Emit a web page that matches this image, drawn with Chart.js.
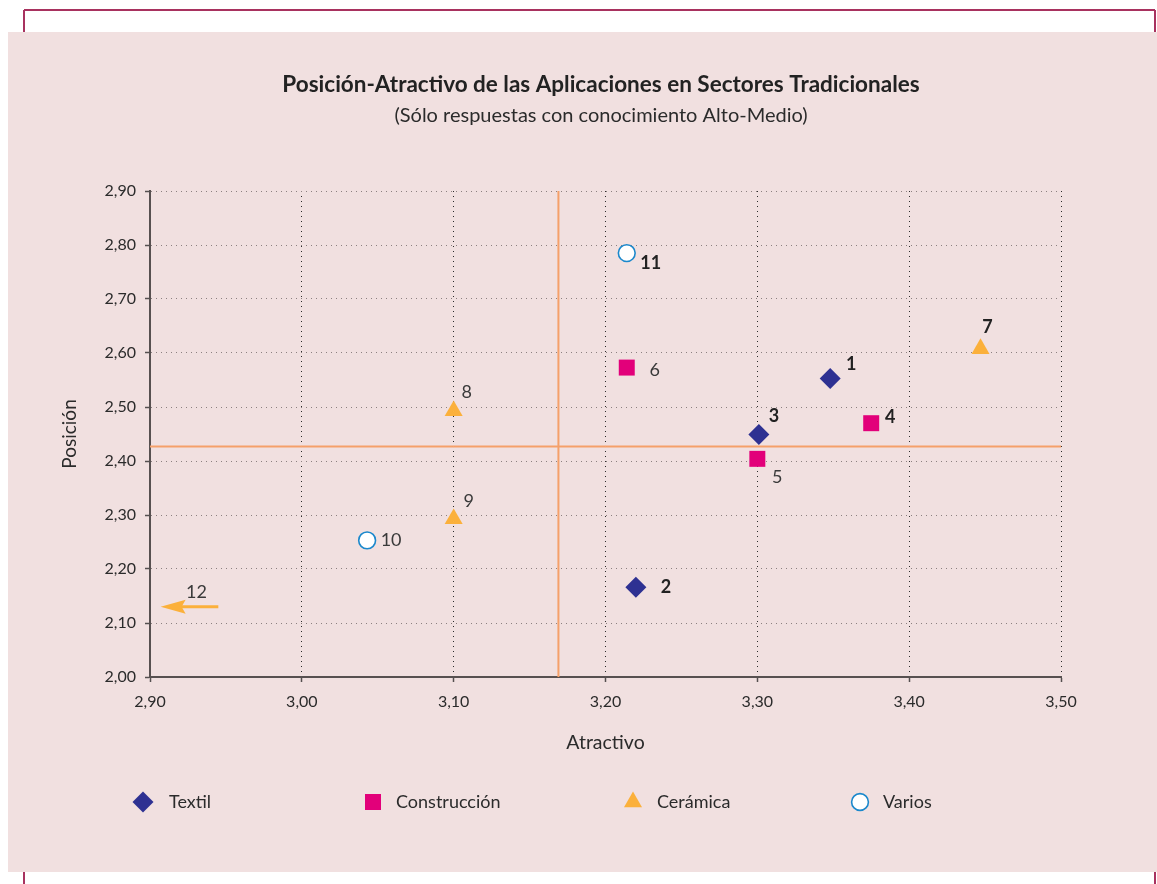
<!DOCTYPE html>
<html>
<head>
<meta charset="utf-8">
<script src="https://cdn.jsdelivr.net/npm/chart.js@4.4.1/dist/chart.umd.min.js"></script>
<style>
html,body{margin:0;padding:0;background:#ffffff;}
canvas{display:block;}
</style>
</head>
<body>
<canvas id="c" width="1157" height="884" style="width:1157px;height:884px"></canvas>
<script>
// ---------- data ----------
const chartTitle = 'Posición-Atractivo de las Aplicaciones en Sectores Tradicionales';
const chartSubtitle = '(Sólo respuestas con conocimiento Alto-Medio)';
const xAxisTitle = 'Atractivo';
const yAxisTitle = 'Posición';
const seriesNames = ['Textil', 'Construcción', 'Cerámica', 'Varios'];

const textilX = [3.348, 3.220, 3.301];
const textilY = [2.553, 2.166, 2.449];
const textilLabels = ['1', '2', '3'];

const construccionX = [3.375, 3.300, 3.214];
const construccionY = [2.470, 2.404, 2.573];
const construccionLabels = ['4', '5', '6'];

const ceramicaX = [3.447, 3.100, 3.100];
const ceramicaY = [2.608, 2.493, 2.293];
const ceramicaLabels = ['7', '8', '9'];

const variosX = [3.043, 3.214];
const variosY = [2.253, 2.785];
const variosLabels = ['10', '11'];

// item outside the visible x range (drawn as an arrow pointing left)
const offscaleLabel = '12';
const offscaleY = 2.13;
const offscaleArrowFrom = 2.945;
const offscaleArrowTo = 2.907;

// reference (mean) lines
const meanX = 3.169;
const meanY = 2.427;

const xMin = 2.9, xMax = 3.5, yMin = 2.0, yMax = 2.9, tickStep = 0.1;

// ---------- styles ----------
const FONT = "Lato, 'Open Sans', 'DejaVu Sans', sans-serif";
const TEXT = '#2b2b2b';
const COL_TEXTIL = '#2e3192';
const COL_CONSTR = '#e2007a';
const COL_CERAM = '#fbb03b';
const COL_VARIOS = '#1b88cc';
const boldLabels = ['1', '2', '3', '4', '7', '11'];
const labelOffsets = {
  '1': [21, -14], '2': [30, 0], '3': [15, -18], '4': [19, -6], '5': [20, 18],
  '6': [28, 3], '7': [7, -21], '8': [13, -19], '9': [15, -18], '10': [24, 0], '11': [24, 10]
};
const legendMarkerX = [143, 373, 633, 860];
const legendTextX = [169, 396, 657, 883];
const legendY = 802;

function pts(xs, ys) { return xs.map((x, i) => ({ x: x, y: ys[i] })); }
function fmt(v) { return Number(v).toFixed(2).replace('.', ','); }

const datasets = [
  { label: seriesNames[0], data: pts(textilX, textilY), pointLabels: textilLabels,
    pointStyle: 'rectRot', pointRadius: 10.5, backgroundColor: COL_TEXTIL, borderColor: COL_TEXTIL, borderWidth: 0 },
  { label: seriesNames[1], data: pts(construccionX, construccionY), pointLabels: construccionLabels,
    pointStyle: 'rect', pointRadius: 11.3, backgroundColor: COL_CONSTR, borderColor: COL_CONSTR, borderWidth: 0 },
  { label: seriesNames[2], data: pts(ceramicaX, ceramicaY), pointLabels: ceramicaLabels,
    pointStyle: 'triangle', pointRadius: 10.4, backgroundColor: COL_CERAM, borderColor: COL_CERAM, borderWidth: 0 },
  { label: seriesNames[3], data: pts(variosX, variosY), pointLabels: variosLabels,
    pointStyle: 'circle', pointRadius: 8.4, backgroundColor: '#ffffff', borderColor: COL_VARIOS, borderWidth: 1.6 }
];

// ---------- plugins ----------
const framePlugin = {
  id: 'frame',
  beforeDraw(chart) {
    const ctx = chart.ctx;
    ctx.save();
    ctx.fillStyle = '#ffffff';
    ctx.fillRect(0, 0, chart.width, chart.height);
    ctx.strokeStyle = '#a8325f';
    ctx.lineWidth = 2;
    ctx.beginPath();
    ctx.moveTo(24, 10); ctx.lineTo(1155, 10);
    ctx.moveTo(24, 10); ctx.lineTo(24, 40);
    ctx.moveTo(1155, 10); ctx.lineTo(1155, 40);
    ctx.moveTo(24, 860); ctx.lineTo(24, 884);
    ctx.moveTo(1155, 860); ctx.lineTo(1155, 884);
    ctx.stroke();
    ctx.fillStyle = '#f1e0e0';
    ctx.fillRect(8, 32, chart.width - 8, 840);
    ctx.restore();
  }
};

const refLinesPlugin = {
  id: 'refLines',
  beforeDatasetsDraw(chart) {
    const ctx = chart.ctx, xs = chart.scales.x, ys = chart.scales.y, a = chart.chartArea;
    const px = xs.getPixelForValue(meanX), py = ys.getPixelForValue(meanY);
    ctx.save();
    ctx.strokeStyle = '#f5a06a';
    ctx.lineWidth = 2;
    ctx.beginPath();
    ctx.moveTo(px, a.top); ctx.lineTo(px, a.bottom);
    ctx.moveTo(a.left, py); ctx.lineTo(a.right, py);
    ctx.stroke();
    ctx.restore();
  }
};

const labelsPlugin = {
  id: 'pointTexts',
  afterDatasetsDraw(chart) {
    const ctx = chart.ctx;
    ctx.save();
    ctx.textAlign = 'center';
    ctx.textBaseline = 'middle';
    chart.data.datasets.forEach((ds, i) => {
      const meta = chart.getDatasetMeta(i);
      meta.data.forEach((el, j) => {
        const lab = ds.pointLabels[j];
        const off = labelOffsets[lab] || [20, 0];
        const bold = boldLabels.indexOf(lab) >= 0;
        ctx.font = (bold ? 'bold ' : '') + '18px ' + FONT;
        ctx.fillStyle = bold ? '#222222' : '#3a3a3a';
        ctx.fillText(lab, el.x + off[0], el.y + off[1]);
      });
    });
    // off-scale arrow
    const xs = chart.scales.x, ys = chart.scales.y;
    const y = ys.getPixelForValue(offscaleY);
    const x0 = xs.getPixelForValue(offscaleArrowTo);
    const x1 = xs.getPixelForValue(offscaleArrowFrom);
    ctx.strokeStyle = COL_CERAM;
    ctx.fillStyle = COL_CERAM;
    ctx.lineWidth = 3;
    ctx.beginPath();
    ctx.moveTo(x1, y); ctx.lineTo(x0 + 18, y);
    ctx.stroke();
    ctx.beginPath();
    ctx.moveTo(x0, y);
    ctx.lineTo(x0 + 25, y - 7);
    ctx.lineTo(x0 + 21, y);
    ctx.lineTo(x0 + 25, y + 7);
    ctx.closePath();
    ctx.fill();
    ctx.font = '18px ' + FONT;
    ctx.fillStyle = '#3a3a3a';
    ctx.fillText(offscaleLabel, (x0 + x1) / 2 + 7, y - 15);
    ctx.restore();
  }
};

const titleLegendPlugin = {
  id: 'titleLegend',
  afterDraw(chart) {
    const ctx = chart.ctx;
    ctx.save();
    ctx.textAlign = 'center';
    ctx.textBaseline = 'middle';
    ctx.fillStyle = '#222222';
    ctx.font = 'bold 22.5px ' + FONT;
    ctx.fillText(chartTitle, 601, 85);
    ctx.font = '20px ' + FONT;
    ctx.fillStyle = '#2b2b2b';
    ctx.fillText(chartSubtitle, 601, 116);
    // legend
    chart.data.datasets.forEach((ds, i) => {
      ctx.fillStyle = ds.backgroundColor;
      ctx.strokeStyle = ds.borderColor;
      ctx.lineWidth = ds.borderWidth;
      Chart.helpers.drawPoint(ctx, { pointStyle: ds.pointStyle, rotation: 0, radius: ds.pointRadius, borderWidth: ds.borderWidth }, legendMarkerX[i], legendY);
      ctx.textAlign = 'left';
      ctx.font = '18px ' + FONT;
      ctx.fillStyle = TEXT;
      ctx.fillText(ds.label, legendTextX[i], legendY);
    });
    ctx.restore();
  }
};

new Chart(document.getElementById('c'), {
  type: 'scatter',
  data: { datasets: datasets },
  plugins: [framePlugin, refLinesPlugin, labelsPlugin, titleLegendPlugin],
  options: {
    responsive: false,
    animation: false,
    events: [],
    devicePixelRatio: 1,
    layout: { padding: { top: 191, right: 96, bottom: 0, left: 0 } },
    plugins: { legend: { display: false }, tooltip: { enabled: false }, title: { display: false } },
    scales: {
      x: {
        type: 'linear', min: xMin, max: xMax,
        afterFit(scale) { scale.height = 207; },
        ticks: { stepSize: tickStep, callback: (v) => fmt(v), color: TEXT, font: { family: FONT, size: 16 }, padding: 10, maxRotation: 0 },
        grid: { color: '#2a2a2a', lineWidth: 1, tickLength: 5, tickColor: '#555050', tickWidth: 1.5, tickBorderDash: [] },
        border: { display: true, color: '#575050', width: 2, dash: [1, 4] },
        title: { display: true, text: xAxisTitle, color: TEXT, font: { family: FONT, size: 19.5 }, padding: { top: 0, bottom: 130 } }
      },
      y: {
        type: 'linear', min: yMin, max: yMax,
        afterFit(scale) { scale.width = 150; },
        ticks: { stepSize: tickStep, callback: (v) => fmt(v), color: TEXT, font: { family: FONT, size: 16 }, padding: 9 },
        grid: { color: '#8c8080', lineWidth: 1, tickLength: 5, tickColor: '#555050', tickWidth: 1.5, tickBorderDash: [] },
        border: { display: true, color: '#575050', width: 2, dash: [1, 4] },
        title: { display: true, text: yAxisTitle, color: TEXT, font: { family: FONT, size: 19 }, padding: { top: 58, bottom: 0 } }
      }
    }
  }
});
</script>
</body>
</html>
